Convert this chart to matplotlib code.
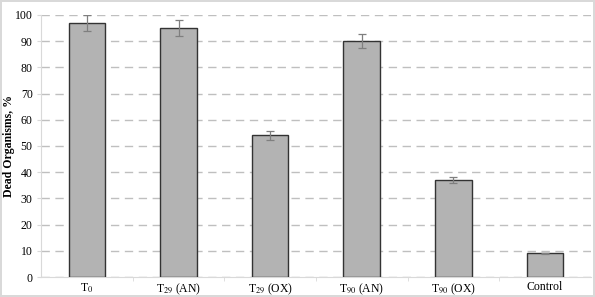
import numpy as np
import matplotlib.pyplot as plt
from matplotlib.ticker import FixedLocator

# Data
categories = ['T$_0$', 'T$_{29}$ (AN)', 'T$_{29}$ (OX)', 'T$_{90}$ (AN)', 'T$_{90}$ (OX)', 'Control']
dead_pct = [97, 95, 54, 90, 37, 9]
err_pct = [3.0, 3.0, 1.7, 2.8, 1.2, 0.3]

plt.rcParams['font.family'] = ['Liberation Serif', 'DejaVu Serif']
plt.rcParams['mathtext.fontset'] = 'stix'

fig = plt.figure(figsize=(5.95, 2.97), dpi=100)
fig.patch.set_edgecolor('#d9d9d9')
fig.patch.set_linewidth(1.5)
ax = fig.add_axes([0.069, 0.067, 0.924, 0.883])

x = np.arange(len(categories))
ax.bar(x, dead_pct, width=0.4, color='#b3b3b3', edgecolor='#333333', linewidth=1.0, zorder=3)
ax.errorbar(x, dead_pct, yerr=err_pct, fmt='none', ecolor='#7f7f7f', elinewidth=0.9,
            capsize=3, capthick=0.9, zorder=4)

ax.set_xlim(-0.5, len(categories) - 0.5)
ax.set_ylim(0, 100)
ax.set_yticks(np.arange(0, 101, 10))
ax.yaxis.grid(True, linestyle=(0, (6, 4)), color='#bfbfbf', linewidth=1.0, zorder=0)

ax.set_xticks(x)
ax.set_xticklabels(categories, fontsize=8.5)
ax.tick_params(axis='x', length=0, pad=3)
ax.xaxis.set_minor_locator(FixedLocator(x[:-1] + 0.5))
ax.tick_params(axis='x', which='minor', length=3, color='#d9d9d9')
ax.tick_params(axis='y', labelsize=8.5, length=3, color='#d9d9d9', pad=3)

for s in ['top', 'right']:
    ax.spines[s].set_visible(False)
for s in ['left', 'bottom']:
    ax.spines[s].set_color('#d9d9d9')

ax.set_ylabel('Dead Organisms, %', fontsize=8.5, fontweight='bold')
ax.yaxis.set_label_coords(-0.048, 0.5)

fig.savefig('out.png', dpi=100)
